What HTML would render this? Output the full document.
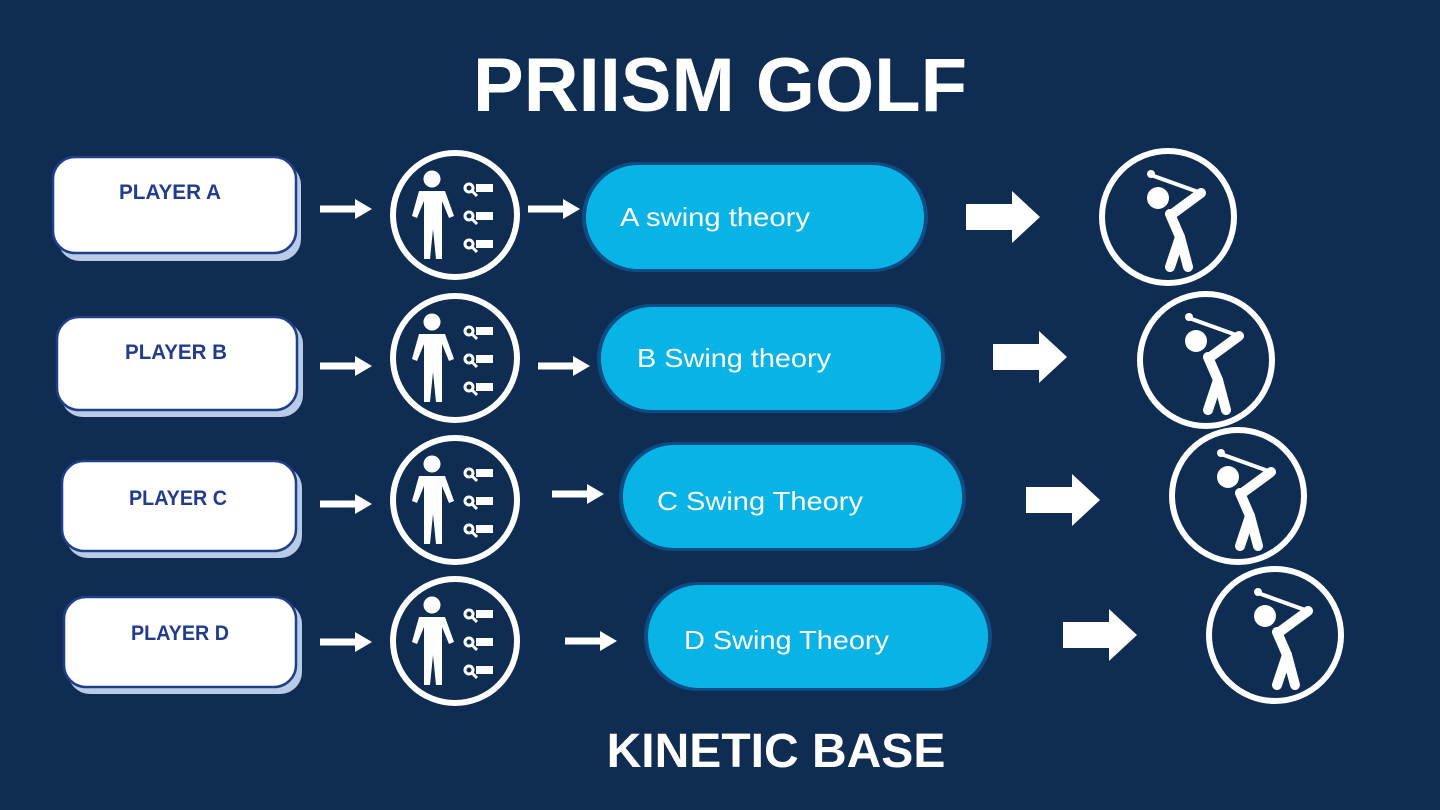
<!DOCTYPE html>
<html><head><meta charset="utf-8"><style>
html,body{margin:0;padding:0;background:#0f2d52;}
svg{display:block}
.t{font-family:"Liberation Sans",sans-serif;}
</style></head><body>
<svg width="1440" height="810" viewBox="0 0 1440 810" xmlns="http://www.w3.org/2000/svg">
<rect width="1440" height="810" fill="#0f2d52"/>
<defs>
<g id="analyst">
 <circle cx="0" cy="0" r="62" fill="none" stroke="#fff" stroke-width="6"/>
 <circle cx="-23" cy="-36" r="8.5" fill="#fff"/>
 <path d="M-36,-24 h26 l9,25 l-5,2 l-7,-17 v58 h-6 l-3,-30 l-3,30 h-6 v-58 l-7,17 l-5,-2 z" fill="#fff"/>
 <g fill="#fff" stroke="#fff">
  <g transform="translate(0,-27)"><circle cx="14" cy="0" r="4" fill="none" stroke-width="3"/><line x1="17" y1="3" x2="22" y2="8" stroke-width="3"/><rect x="21" y="-4" width="17" height="8" stroke="none"/></g>
  <g transform="translate(0,1)"><circle cx="14" cy="0" r="4" fill="none" stroke-width="3"/><line x1="17" y1="3" x2="22" y2="8" stroke-width="3"/><rect x="21" y="-4" width="17" height="8" stroke="none"/></g>
  <g transform="translate(0,29)"><circle cx="14" cy="0" r="4" fill="none" stroke-width="3"/><line x1="17" y1="3" x2="22" y2="8" stroke-width="3"/><rect x="21" y="-4" width="17" height="8" stroke="none"/></g>
 </g>
</g>
<g id="golfer">
 <circle cx="0" cy="0" r="66" fill="none" stroke="#fff" stroke-width="6"/>
 <circle cx="-10" cy="-19" r="11" fill="#fff"/>
 <line x1="-17" y1="-42" x2="33" y2="-24" stroke="#fff" stroke-width="4" stroke-linecap="round"/>
 <circle cx="-17" cy="-43" r="4" fill="#fff"/>
 <path d="M33,-24 L3,-2" stroke="#fff" stroke-width="10" stroke-linecap="round"/>
 <path d="M2,-3 L12,20 L2,50" stroke="#fff" stroke-width="10" fill="none" stroke-linecap="round" stroke-linejoin="round"/>
 <path d="M12,20 L20,50" stroke="#fff" stroke-width="10" fill="none" stroke-linecap="round"/>
</g>
<g id="sarrow"><rect x="0" y="-3.5" width="36" height="7" fill="#fff"/><path d="M35,-10 L52,0 L35,10 z" fill="#fff"/></g>
<g id="barrow"><rect x="0" y="-13" width="47" height="26" fill="#fff"/><path d="M46,-26 L74,0 L46,26 z" fill="#fff"/></g>
</defs>

<text x="720" y="111" text-anchor="middle" class="t" font-size="76" font-weight="bold" fill="#fff">PRIISM GOLF</text>
<text x="776" y="767" text-anchor="middle" class="t" font-size="48" font-weight="bold" fill="#fff">KINETIC BASE</text>

<!-- Row A -->
<rect x="58" y="163" width="243" height="98" rx="22" fill="#b9cbe6"/>
<rect x="53" y="157" width="243" height="96" rx="22" fill="#fff" stroke="#1f3f8a" stroke-width="2.5"/>
<text x="170" y="199" text-anchor="middle" class="t" font-size="21" font-weight="bold" fill="#223c8c" textLength="102" lengthAdjust="spacingAndGlyphs">PLAYER A</text>
<use href="#sarrow" x="320" y="209"/>
<use href="#analyst" x="455" y="215"/>
<use href="#sarrow" x="528" y="209"/>
<rect x="582" y="162" width="346" height="110" rx="55" fill="#0a4d85"/>
<rect x="586" y="165" width="338" height="104" rx="52" fill="#08b3e6"/>
<text x="620" y="226" class="t" font-size="26" fill="#fff" textLength="190" lengthAdjust="spacingAndGlyphs">A swing theory</text>
<use href="#barrow" x="966" y="217"/>
<use href="#golfer" x="1168" y="217"/>

<!-- Row B -->
<rect x="61" y="322" width="242" height="95" rx="22" fill="#b9cbe6"/>
<rect x="57" y="317" width="240" height="93" rx="22" fill="#fff" stroke="#1f3f8a" stroke-width="2.5"/>
<text x="176" y="359" text-anchor="middle" class="t" font-size="21" font-weight="bold" fill="#223c8c" textLength="102" lengthAdjust="spacingAndGlyphs">PLAYER B</text>
<use href="#sarrow" x="320" y="366"/>
<use href="#analyst" x="455" y="358"/>
<use href="#sarrow" x="538" y="366"/>
<rect x="597" y="304" width="348" height="109" rx="54" fill="#0a4d85"/>
<rect x="601" y="307" width="340" height="103" rx="51" fill="#08b3e6"/>
<text x="637" y="367" class="t" font-size="26" fill="#fff" textLength="194" lengthAdjust="spacingAndGlyphs">B Swing theory</text>
<use href="#barrow" x="993" y="357"/>
<use href="#golfer" x="1206" y="360"/>

<!-- Row C -->
<rect x="66" y="466" width="236" height="92" rx="22" fill="#b9cbe6"/>
<rect x="62" y="461" width="234" height="90" rx="22" fill="#fff" stroke="#1f3f8a" stroke-width="2.5"/>
<text x="178" y="505" text-anchor="middle" class="t" font-size="21" font-weight="bold" fill="#223c8c" textLength="98" lengthAdjust="spacingAndGlyphs">PLAYER C</text>
<use href="#sarrow" x="320" y="504"/>
<use href="#analyst" x="455" y="500"/>
<use href="#sarrow" x="552" y="494"/>
<rect x="619" y="442" width="347" height="109" rx="54" fill="#0a4d85"/>
<rect x="623" y="445" width="339" height="103" rx="51" fill="#08b3e6"/>
<text x="657" y="510" class="t" font-size="26" fill="#fff" textLength="206" lengthAdjust="spacingAndGlyphs">C Swing Theory</text>
<use href="#barrow" x="1026" y="500"/>
<use href="#golfer" x="1238" y="496"/>

<!-- Row D -->
<rect x="68" y="602" width="234" height="92" rx="22" fill="#b9cbe6"/>
<rect x="64" y="597" width="232" height="90" rx="22" fill="#fff" stroke="#1f3f8a" stroke-width="2.5"/>
<text x="180" y="640" text-anchor="middle" class="t" font-size="21" font-weight="bold" fill="#223c8c" textLength="98" lengthAdjust="spacingAndGlyphs">PLAYER D</text>
<use href="#sarrow" x="320" y="642"/>
<use href="#analyst" x="455" y="641"/>
<use href="#sarrow" x="565" y="641"/>
<rect x="644" y="582" width="348" height="109" rx="54" fill="#0a4d85"/>
<rect x="648" y="585" width="340" height="103" rx="51" fill="#08b3e6"/>
<text x="684" y="649" class="t" font-size="26" fill="#fff" textLength="205" lengthAdjust="spacingAndGlyphs">D Swing Theory</text>
<use href="#barrow" x="1063" y="635"/>
<use href="#golfer" x="1275" y="635"/>
</svg>
</body></html>
